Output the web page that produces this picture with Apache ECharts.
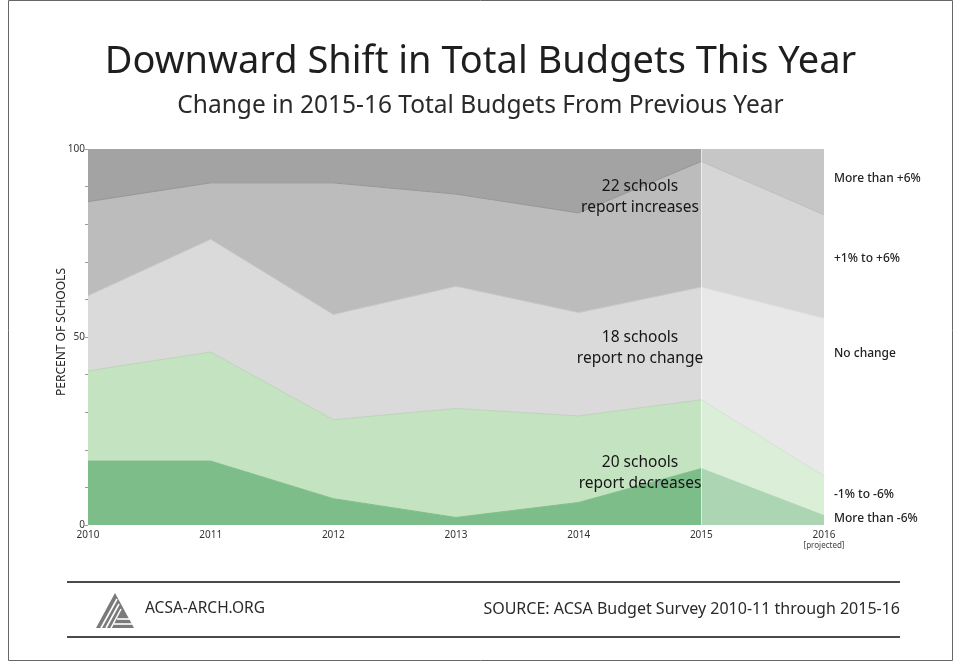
<!DOCTYPE html>
<html>
<head>
<meta charset="utf-8">
<title>Downward Shift in Total Budgets This Year</title>
<script src="https://cdn.jsdelivr.net/npm/echarts@6/dist/echarts.min.js"></script>
<style>
  html, body { margin: 0; padding: 0; background: #fff; }
  #chart { width: 961px; height: 669px; }
</style>
</head>
<body>
<div id="chart"></div>
<script>
// Survey years (2016 is projected)
const years = ['2010', '2011', '2012', '2013', '2014', '2015', '2016'];

// Share of schools (%) in each budget-change bracket, bottom to top of the stack
const moreThanMinus6 = [17, 17, 7, 2, 6, 15, 2.5];
const minus1to6      = [24, 29, 21, 29, 23, 18.3, 10.5];
const noChange       = [20, 30, 28, 32.5, 27.5, 30, 42];
const plus1to6       = [25, 15, 35, 24.5, 26.5, 33.4, 27.5];
const moreThanPlus6  = [14, 9, 9, 12, 17, 3.3, 17.5];

const bandNames = ['More than -6%', '-1% to -6%', 'No change', '+1% to +6%', 'More than +6%'];
const bandValues = [moreThanMinus6, minus1to6, noChange, plus1to6, moreThanPlus6];

// reported years
const bandFill = ['#7dbd89', '#c4e3c0', '#dadada', '#bcbcbc', '#a3a3a3'];
const bandEdge = ['#7dbd89', '#bcd4b9', '#c6c6c6', '#959595', '#a3a3a3'];
// projected year (paler)
const projFill = ['#acd5b3', '#dbeed8', '#e8e8e8', '#d6d6d6', '#c6c6c6'];
const projEdge = ['#acd5b3', '#d3e2d1', '#dcdcdc', '#bdbdbd', '#c6c6c6'];

const FONT = '"Noto Sans", "Open Sans", sans-serif';
const projStart = years.indexOf('2015');

const series = [];
bandValues.forEach((vals, i) => {
  const top = i === bandValues.length - 1;
  series.push({
    name: bandNames[i],
    type: 'line',
    stack: 'reported',
    data: vals.map((v, k) => (k <= projStart ? v : '-')),
    symbol: 'none',
    lineStyle: { width: top ? 0 : 1, color: bandEdge[i] },
    areaStyle: { color: bandFill[i], opacity: 1 },
    z: 2,
    silent: true
  });
});
bandValues.forEach((vals, i) => {
  const top = i === bandValues.length - 1;
  series.push({
    name: bandNames[i] + ' (projected)',
    type: 'line',
    stack: 'projected',
    data: vals.map((v, k) => (k >= projStart ? v : '-')),
    symbol: 'none',
    lineStyle: { width: top ? 0 : 1, color: projEdge[i] },
    areaStyle: { color: projFill[i], opacity: 1 },
    z: 3,
    silent: true
  });
});
// faint seam at the start of the projection
series.push({
  type: 'line',
  data: [],
  z: 5,
  silent: true,
  markLine: {
    silent: true,
    symbol: 'none',
    label: { show: false },
    lineStyle: { color: 'rgba(255,255,255,0.5)', width: 1, type: 'solid' },
    data: [{ xAxis: '2015' }]
  }
});

const chart = echarts.init(document.getElementById('chart'), null, { renderer: 'canvas' });

chart.setOption({
  animation: false,
  backgroundColor: '#ffffff',
  title: [
    {
      text: 'Downward Shift in Total Budgets This Year',
      left: 'center',
      top: 38,
      textStyle: { fontFamily: FONT, fontSize: 38, fontWeight: 'normal', color: '#1e1e1e' }
    },
    {
      text: 'Change in 2015-16 Total Budgets From Previous Year',
      left: 'center',
      top: 89,
      textStyle: { fontFamily: FONT, fontSize: 24.5, fontWeight: 'normal', color: '#2a2a2a' }
    }
  ],
  grid: { left: 88, right: 137, top: 149, bottom: 144 },
  xAxis: {
    type: 'category',
    data: years,
    boundaryGap: false,
    axisLine: { show: false },
    axisTick: { show: false },
    splitLine: { show: false },
    axisLabel: {
      margin: 5,
      color: '#333',
      fontFamily: FONT,
      fontSize: 10,
      formatter: v => v === '2016' ? '{y|2016}\n{p|[projected]}' : '{y|' + v + '}',
      rich: {
        y: { fontFamily: FONT, fontSize: 10, color: '#333', lineHeight: 11 },
        p: { fontFamily: FONT, fontSize: 8, color: '#444', lineHeight: 9 }
      }
    }
  },
  yAxis: {
    type: 'value',
    min: 0,
    max: 100,
    interval: 10,
    axisLine: { show: false },
    axisTick: { show: true, length: 3, lineStyle: { color: '#9a9a9a' } },
    splitLine: { show: false },
    axisLabel: {
      margin: 3,
      color: '#333',
      fontFamily: FONT,
      fontSize: 10,
      formatter: v => (v % 50 === 0 ? String(v) : '')
    }
  },
  series: series,
  graphic: [
    // outer frame
    { type: 'rect', shape: { x: 8.5, y: 0.5, width: 944, height: 660 },
      style: { fill: 'none', stroke: '#666', lineWidth: 1 }, z: 0 },

    // vertical axis title
    { type: 'text', x: 62, y: 332, rotation: Math.PI / 2, z: 10,
      style: { text: 'PERCENT OF SCHOOLS', font: '12px ' + FONT, fill: '#222', align: 'center', verticalAlign: 'middle' } },

    // band names on the right
    { type: 'text', left: 834, top: 173, style: { text: 'More than +6%', font: '500 12px ' + FONT, fill: '#222' }, z: 10 },
    { type: 'text', left: 834, top: 253, style: { text: '+1% to +6%', font: '500 12px ' + FONT, fill: '#222' }, z: 10 },
    { type: 'text', left: 834, top: 348, style: { text: 'No change', font: '500 12px ' + FONT, fill: '#222' }, z: 10 },
    { type: 'text', left: 834, top: 489, style: { text: '-1% to -6%', font: '500 12px ' + FONT, fill: '#222' }, z: 10 },
    { type: 'text', left: 834, top: 513, style: { text: 'More than -6%', font: '500 12px ' + FONT, fill: '#222' }, z: 10 },

    // 2015 school counts
    { type: 'text', x: 640, y: 176, z: 10,
      style: { text: '22 schools\nreport increases', font: '15.5px ' + FONT, fill: '#151515', align: 'center', lineHeight: 21 } },
    { type: 'text', x: 640, y: 327, z: 10,
      style: { text: '18 schools\nreport no change', font: '15.5px ' + FONT, fill: '#151515', align: 'center', lineHeight: 21 } },
    { type: 'text', x: 640, y: 452, z: 10,
      style: { text: '20 schools\nreport decreases', font: '15.5px ' + FONT, fill: '#151515', align: 'center', lineHeight: 21 } },

    // footer rules
    { type: 'line', shape: { x1: 67, y1: 582, x2: 900, y2: 582 }, style: { stroke: '#4a4a4a', lineWidth: 2 }, z: 10 },
    { type: 'line', shape: { x1: 67, y1: 637, x2: 900, y2: 637 }, style: { stroke: '#4a4a4a', lineWidth: 2 }, z: 10 },

    // logo mark: striped triangle
    { type: 'polygon', shape: { points: [[96, 628], [115, 593], [134, 628]] }, style: { fill: '#7a7a7a' }, z: 10 },
    { type: 'line', shape: { x1: 101, y1: 628, x2: 117, y2: 599 }, style: { stroke: '#fff', lineWidth: 1.6 }, z: 11 },
    { type: 'line', shape: { x1: 106, y1: 628, x2: 119, y2: 604 }, style: { stroke: '#fff', lineWidth: 1.6 }, z: 11 },
    { type: 'line', shape: { x1: 111, y1: 628, x2: 121, y2: 609 }, style: { stroke: '#fff', lineWidth: 1.6 }, z: 11 },
    { type: 'line', shape: { x1: 117, y1: 619, x2: 130, y2: 619 }, style: { stroke: '#fff', lineWidth: 1.6 }, z: 11 },
    { type: 'line', shape: { x1: 114, y1: 624, x2: 132, y2: 624 }, style: { stroke: '#fff', lineWidth: 1.6 }, z: 11 },

    // footer text
    { type: 'text', left: 145, top: 601, style: { text: 'ACSA-ARCH.ORG', font: '15.5px ' + FONT, fill: '#2a2a2a' }, z: 10 },
    { type: 'text', right: 61, top: 601, style: { text: 'SOURCE: ACSA Budget Survey 2010-11 through 2015-16', font: '16px ' + FONT, fill: '#2a2a2a' }, z: 10 }
  ]
});
</script>
</body>
</html>
